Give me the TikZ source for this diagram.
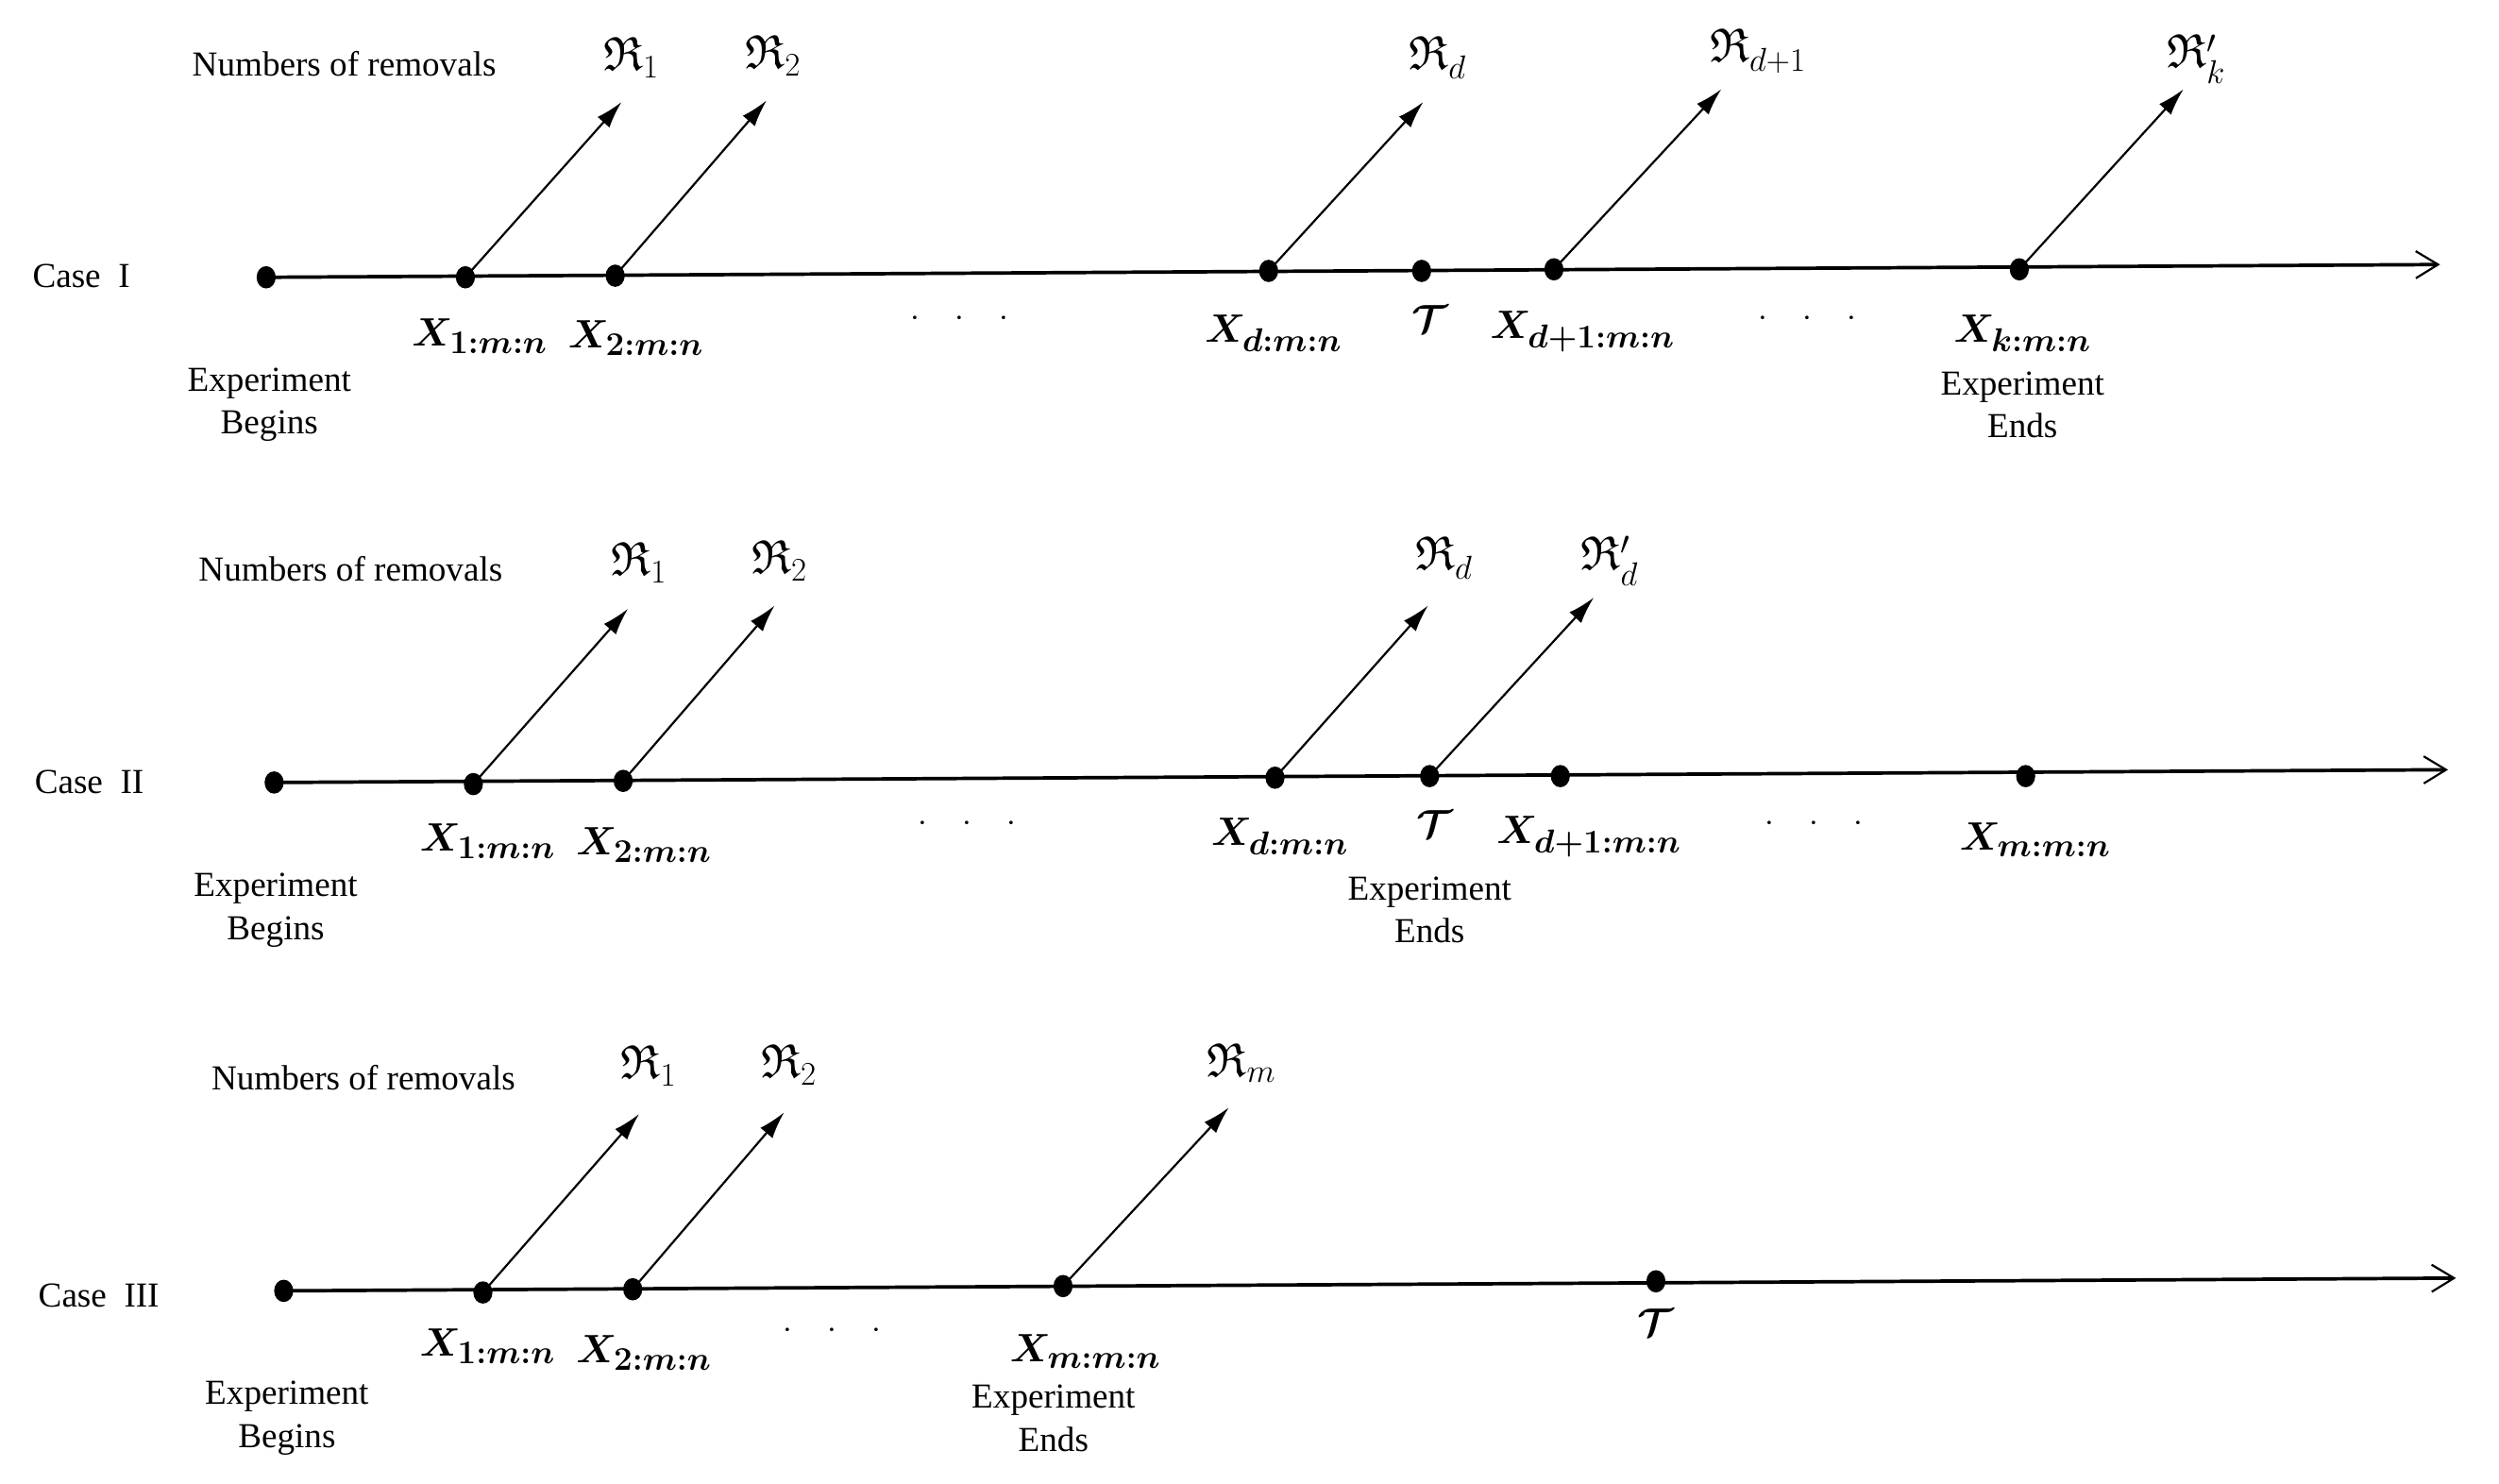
\documentclass[tikz,border=0pt]{standalone}
\usepackage{amsmath,amssymb,bm}
\DeclareFontFamily{U}{euf}{}
\DeclareFontShape{U}{euf}{m}{n}{<-> eufm10}{}
\DeclareFontShape{U}{euf}{b}{n}{<-> eufb10}{}
\usepackage{fontspec}
\setmainfont{Liberation Serif}
\newfontfamily\timesfont{Liberation Serif}
\usetikzlibrary{arrows.meta,shapes.geometric}
\newcommand{\eldots}{$\cdot$\hspace{22pt}$\cdot$\hspace{22pt}$\cdot$}
\begin{document}
\begin{tikzpicture}[x=1pt,y=-1pt,
 dotnode/.style={ellipse,fill=black,inner sep=0pt,minimum width=12pt,minimum height=14pt},
 axisline/.style={line width=2.2pt,-{Straight Barb[length=14pt,width=17pt,line width=1.3pt]}},
 remarrow/.style={line width=1.3pt,-{Latex[length=17pt,width=10pt]}},
 txt/.style={font=\timesfont\fontsize{22}{27}\selectfont, align=center, inner sep=0pt},
 xlab/.style={font=\fontsize{28}{30}\selectfont, inner sep=0pt},
 rlab/.style={font=\fontsize{30}{32}\selectfont, inner sep=0pt},
 ellip/.style={font=\timesfont\fontsize{22}{27}\selectfont, inner sep=0pt}]
\useasboundingbox (0,0) rectangle (1568,931);

% ---------------- Case I ----------------
\node[txt] (c1) at (51,173) {Case\ \ I};
\node[txt] (n1) at (216,40) {Numbers of removals};
\node[dotnode] (a0) at (167,174) {};
\node[dotnode] (a1) at (292,174) {};
\node[dotnode] (a2) at (386,173) {};
\node[dotnode] (ad) at (796,170) {};
\node[dotnode] (aT) at (892,170) {};
\node[dotnode] (ad1) at (975,169) {};
\node[dotnode] (ak) at (1267,169) {};
\coordinate (aend) at (1531,166);
\draw[axisline] (a0.center) -- (aend);
\coordinate (ar1) at (390,64);
\coordinate (ar2) at (481,63);
\coordinate (ard) at (893,64);
\coordinate (ard1) at (1080,56);
\coordinate (ark) at (1370,56);
\draw[remarrow] (a1.center) -- (ar1);
\draw[remarrow] (a2.center) -- (ar2);
\draw[remarrow] (ad.center) -- (ard);
\draw[remarrow] (ad1.center) -- (ard1);
\draw[remarrow] (ak.center) -- (ark);
\node[rlab] (r1) at (396,36) {$\mathfrak{R}_1$};
\node[rlab] (r2) at (485,35) {$\mathfrak{R}_2$};
\node[rlab] (rd) at (902,36) {$\mathfrak{R}_d$};
\node[rlab] (rd1) at (1103,32) {$\mathfrak{R}_{d+1}$};
\node[rlab] (rk) at (1378,37) {$\mathfrak{R}'_k$};
\node[xlab] (x1) at (301,211) {$\bm{X}_{\bm{1:m:n}}$};
\node[xlab] (x2) at (399,212) {$\bm{X}_{\bm{2:m:n}}$};
\node[ellip] (e1) at (602,200) {\eldots};
\node[xlab] (xd) at (799,209) {$\bm{X}_{\bm{d:m:n}}$};
\node[xlab] (tT) at (897,200) {$\bm{\mathcal{T}}$};
\node[xlab] (xd1) at (993,208) {$\bm{X}_{\bm{d+1:m:n}}$};
\node[ellip] (e2) at (1134,200) {\eldots};
\node[xlab] (xk) at (1269,209) {$\bm{X}_{\bm{k:m:n}}$};
\node[txt] (b1) at (169,254) {Experiment\\Begins};
\node[txt] (f1) at (1269,254) {Experiment\\Ends};

% ---------------- Case II ----------------
\node[txt] (c2) at (56,491) {Case\ \ II};
\node[txt] (n2) at (220,357) {Numbers of removals};
\node[dotnode] (b0) at (172,491) {};
\node[dotnode] (b1d) at (297,492) {};
\node[dotnode] (b2) at (391,490) {};
\node[dotnode] (bd) at (800,488) {};
\node[dotnode] (bT) at (897,487) {};
\node[dotnode] (bd1) at (979,487) {};
\node[dotnode] (bm) at (1271,487) {};
\coordinate (bend) at (1536,483);
\draw[axisline] (b0.center) -- (bend);
\coordinate (br1) at (394,382);
\coordinate (br2) at (486,380);
\coordinate (brd) at (896,380);
\coordinate (brdp) at (1000,375);
\draw[remarrow] (b1d.center) -- (br1);
\draw[remarrow] (b2.center) -- (br2);
\draw[remarrow] (bd.center) -- (brd);
\draw[remarrow] (bT.center) -- (brdp);
\node[rlab] (s1) at (401,353) {$\mathfrak{R}_1$};
\node[rlab] (s2) at (489,352) {$\mathfrak{R}_2$};
\node[rlab] (sd) at (906,350) {$\mathfrak{R}_d$};
\node[rlab] (sdp) at (1010,352) {$\mathfrak{R}'_d$};
\node[xlab] (y1) at (306,528) {$\bm{X}_{\bm{1:m:n}}$};
\node[xlab] (y2) at (404,530) {$\bm{X}_{\bm{2:m:n}}$};
\node[ellip] (e3) at (607,517) {\eldots};
\node[xlab] (yd) at (803,525) {$\bm{X}_{\bm{d:m:n}}$};
\node[xlab] (uT) at (900,517) {$\bm{\mathcal{T}}$};
\node[xlab] (yd1) at (997,525) {$\bm{X}_{\bm{d+1:m:n}}$};
\node[ellip] (e4) at (1138,517) {\eldots};
\node[xlab] (ym) at (1277,527) {$\bm{X}_{\bm{m:m:n}}$};
\node[txt] (g1) at (173,571) {Experiment\\Begins};
\node[txt] (h1) at (897,571) {Experiment\\Ends};

% ---------------- Case III ----------------
\node[txt] (c3) at (62,813) {Case\ \ III};
\node[txt] (n3) at (228,676) {Numbers of removals};
\node[dotnode] (c0) at (178,810) {};
\node[dotnode] (c1d) at (303,811) {};
\node[dotnode] (c2d) at (397,809) {};
\node[dotnode] (cm) at (667,807) {};
\node[dotnode] (cT) at (1039,804) {};
\coordinate (cend) at (1541,802);
\draw[axisline] (c0.center) -- (cend);
\coordinate (cr1) at (401,699);
\coordinate (cr2) at (492,698);
\coordinate (crm) at (771,695);
\draw[remarrow] (c1d.center) -- (cr1);
\draw[remarrow] (c2d.center) -- (cr2);
\draw[remarrow] (cm.center) -- (crm);
\node[rlab] (t1) at (407,669) {$\mathfrak{R}_1$};
\node[rlab] (t2) at (495,668) {$\mathfrak{R}_2$};
\node[rlab] (tm) at (779,667) {$\mathfrak{R}_m$};
\node[xlab] (z1) at (306,845) {$\bm{X}_{\bm{1:m:n}}$};
\node[xlab] (z2) at (404,849) {$\bm{X}_{\bm{2:m:n}}$};
\node[ellip] (e5) at (522,835) {\eldots};
\node[xlab] (zm) at (681,848) {$\bm{X}_{\bm{m:m:n}}$};
\node[xlab] (vT) at (1039,830) {$\bm{\mathcal{T}}$};
\node[txt] (k1) at (180,890) {Experiment\\Begins};
\node[txt] (l1) at (661,890) {Experiment\\Ends};
\end{tikzpicture}
\end{document}
